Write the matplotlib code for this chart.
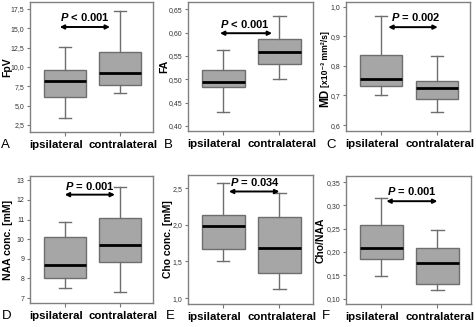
import matplotlib
matplotlib.use("Agg")
import matplotlib.pyplot as plt
import numpy as np

plt.rcParams['font.family'] = ['Liberation Sans', 'DejaVu Sans']
plt.rcParams['mathtext.fontset'] = 'custom'
plt.rcParams['mathtext.it'] = 'Liberation Sans:italic:bold'
plt.rcParams['mathtext.rm'] = 'Liberation Sans:bold'

groups = ["ipsilateral", "contralateral"]
panel_letters = ["A", "B", "C", "D", "E", "F"]
ylabels = ["FpV", "FA", None, "NAA conc. [mM]", "Cho conc. [mM]", "Cho/NAA"]
p_texts = [r"$P$ < 0.001", r"$P$ < 0.001", r"$P$ = 0.002",
           r"$P$ = 0.001", r"$P$ = 0.034", r"$P$ = 0.001"]

# box stats per panel: [whislo, q1, med, q3, whishi] for ipsilateral, contralateral
fpv = [[3.4, 6.1, 8.25, 9.55, 12.6], [6.6, 7.7, 9.2, 11.95, 17.2]]
fa = [[0.430, 0.483, 0.495, 0.520, 0.562], [0.500, 0.532, 0.558, 0.587, 0.636]]
md = [[0.703, 0.733, 0.757, 0.836, 0.970], [0.643, 0.687, 0.724, 0.750, 0.833]]
naa = [[7.5, 8.0, 8.7, 10.1, 10.9], [7.3, 8.85, 9.72, 11.07, 12.65]]
cho = [[1.51, 1.67, 1.985, 2.135, 2.57], [1.12, 1.34, 1.69, 2.105, 2.43]]
cho_naa = [[0.148, 0.186, 0.209, 0.258, 0.316], [0.118, 0.131, 0.177, 0.209, 0.247]]
all_stats = [fpv, fa, md, naa, cho, cho_naa]

# significance bar: (x start, x end, arrow y, text x, text y)
sig = [(0.91, 1.82, 15.17, 1.36, 16.5),
       (0.94, 1.87, 0.599, 1.38, 0.618),
       (1.13, 2.02, 0.931, 1.62, 0.965),
       (1.00, 1.91, 12.27, 1.45, 12.72),
       (1.10, 2.00, 2.455, 1.56, 2.59),
       (1.09, 2.00, 0.309, 1.55, 0.330)]

ylims = [(1.6, 18.4), (0.389, 0.666), (0.58, 1.016),
         (6.75, 13.22), (0.92, 2.68), (0.0886, 0.363)]
yticks = [np.arange(2.5, 17.6, 2.5), np.arange(0.40, 0.66, 0.05),
          np.arange(0.6, 1.01, 0.1), np.arange(7, 14, 1),
          np.arange(1.0, 2.6, 0.5), np.arange(0.10, 0.36, 0.05)]
decimals = [1, 2, 1, 0, 1, 2]

W, H = 477, 327
# axes boxes in pixels: left, right, top, bottom
boxes = [(30, 153, 2, 132), (188, 313, 2, 131), (346, 470, 2, 131),
         (30, 153, 176, 303), (188, 313, 175, 304), (346, 471, 176, 304)]
ylabel_x = [-0.145, -0.152, None, -0.138, -0.12, -0.16]
letter_pos = [(1, 145), (164, 145), (326, 145), (2, 316), (166, 316), (322, 316)]

edge = '#6e6e6e'
fig = plt.figure(figsize=(W / 100, H / 100), dpi=100)

for i, (l, r, t, b) in enumerate(boxes):
    ax = fig.add_axes([l / W, 1 - b / H, (r - l) / W, (b - t) / H])
    stats = []
    for g, s in zip(groups, all_stats[i]):
        stats.append(dict(label=g, whislo=s[0], q1=s[1], med=s[2], q3=s[3],
                          whishi=s[4], fliers=[]))
    ax.bxp(stats, positions=[1, 2], widths=0.76, patch_artist=True,
           showfliers=False, capwidths=0.22,
           boxprops=dict(facecolor='#a6a6a6', edgecolor=edge, linewidth=1),
           whiskerprops=dict(color=edge, linewidth=1),
           capprops=dict(color=edge, linewidth=1),
           medianprops=dict(color='black', linewidth=2))
    ax.set_xlim(0.37, 2.6)
    ax.set_ylim(*ylims[i])
    ax.set_yticks(yticks[i])
    d = decimals[i]
    ax.set_yticklabels([f"{v:.{d}f}".replace('.', ',') for v in yticks[i]])
    ax.set_xticks([1, 2])
    ax.set_xticklabels([])
    # group names sit a bit off their ticks in the original
    ylab_y = -13 / (b - t)
    for xpos, g in zip([1 - 9 / 55, 2 + 3 / 55], groups):
        ax.text(xpos, ylab_y, g, transform=ax.get_xaxis_transform(),
                ha='center', va='center', fontsize=8.2, fontweight='bold')
    ax.tick_params(axis='y', labelsize=5, length=2.5, color='#777777',
                   labelcolor='#333333', pad=1.5)
    ax.tick_params(axis='x', length=3, color='#777777')
    for sp in ax.spines.values():
        sp.set_color('#808080')
        sp.set_linewidth(1)
    if ylabels[i]:
        ax.set_ylabel(ylabels[i], fontsize=7.5, fontweight='bold')
        ax.yaxis.set_label_coords(ylabel_x[i], 0.5)
    else:
        ax.text(-0.145, 0.186, "MD", rotation=90, transform=ax.transAxes,
                rotation_mode='anchor', ha='left', va='baseline',
                fontsize=8.5, fontweight='bold')
        ax.text(-0.145, 0.34, "[x10⁻³ mm²/s]", rotation=90, transform=ax.transAxes,
                rotation_mode='anchor', ha='left', va='baseline',
                fontsize=6.3, fontweight='bold')
    x1, x2, ya, xt, yt = sig[i]
    ax.annotate('', xy=(x2, ya), xytext=(x1, ya),
                arrowprops=dict(arrowstyle='<|-|>', color='black', lw=1.4,
                                mutation_scale=6, shrinkA=0, shrinkB=0))
    ax.text(xt, yt, p_texts[i], ha='center', va='center', fontsize=8,
            fontweight='bold')
    lx, ly = letter_pos[i]
    fig.text(lx / W, 1 - ly / H, panel_letters[i], fontsize=9.5,
             ha='left', va='center')

fig.savefig("out.png", dpi=100)
